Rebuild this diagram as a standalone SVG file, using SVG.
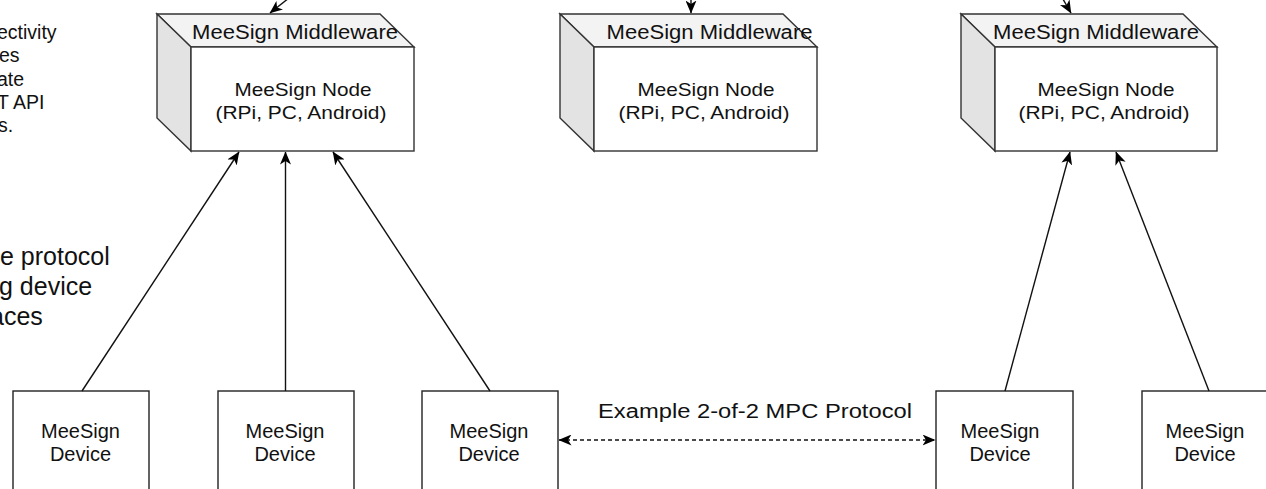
<svg xmlns="http://www.w3.org/2000/svg" width="1266" height="489" viewBox="0 0 1266 489">
<style>
text{font-family:"Liberation Sans",Arial,sans-serif;fill:#111;}
.top{fill:#f3f3f3;stroke:#333;stroke-width:1.4;}
.side{fill:#e3e3e3;stroke:#333;stroke-width:1.4;}
.front{fill:#fff;stroke:#333;stroke-width:1.4;}
.dev{fill:#fff;stroke:#222;stroke-width:1.4;}
.mw{font-size:20px;text-anchor:middle;}
.nt{font-size:19px;text-anchor:middle;}
.dt{font-size:20px;text-anchor:middle;}
.ln{stroke:#111;stroke-width:1.4;fill:none;}
.side-text{font-size:19.5px;}
.big-text{font-size:25px;}
</style>
<defs>
<marker id="ah" viewBox="0 0 13 11" refX="12.5" refY="5.5" markerWidth="13" markerHeight="11" markerUnits="userSpaceOnUse" orient="auto-start-reverse">
<path d="M0,0 L13,5.5 L0,11 L3.5,5.5 Z" fill="#000"/>
</marker>
</defs>

<g id="notes">
<text class="side-text" x="-3" y="39">ectivity</text>
<text class="side-text" x="-1" y="62">es</text>
<text class="side-text" x="-3" y="86">ate</text>
<text class="side-text" x="-3" y="109">T API</text>
<text class="side-text" x="-2" y="132">s.</text>
<text class="big-text" x="0" y="265">e protocol</text>
<text class="big-text" x="-1" y="295">g device</text>
<text class="big-text" x="-10" y="325">aces</text>
</g>

<g id="node1">
<path class="top" d="M157,14 L380,14 L414,47 L191,47 Z"/>
<path class="side" d="M157,14 L191,47 L191,151 L157,118 Z"/>
<rect class="front" x="191" y="47" width="223" height="104"/>
<text class="mw" x="295" y="39" textLength="206" lengthAdjust="spacingAndGlyphs">MeeSign Middleware</text>
<text class="nt" x="303" y="96" textLength="137" lengthAdjust="spacingAndGlyphs">MeeSign Node</text>
<text class="nt" x="301" y="119" textLength="171" lengthAdjust="spacingAndGlyphs">(RPi, PC, Android)</text>
</g>

<g id="node2">
<path class="top" d="M560,14 L783,14 L817,47 L594,47 Z"/>
<path class="side" d="M560,14 L594,47 L594,151 L560,118 Z"/>
<rect class="front" x="594" y="47" width="223" height="104"/>
<text class="mw" x="709.5" y="39" textLength="206" lengthAdjust="spacingAndGlyphs">MeeSign Middleware</text>
<text class="nt" x="706" y="96" textLength="137" lengthAdjust="spacingAndGlyphs">MeeSign Node</text>
<text class="nt" x="704" y="119" textLength="171" lengthAdjust="spacingAndGlyphs">(RPi, PC, Android)</text>
</g>

<g id="node3">
<path class="top" d="M961,14 L1183,14 L1217,47 L995,47 Z"/>
<path class="side" d="M961,14 L995,47 L995,151 L961,118 Z"/>
<rect class="front" x="995" y="47" width="222" height="104"/>
<text class="mw" x="1096" y="39" textLength="206" lengthAdjust="spacingAndGlyphs">MeeSign Middleware</text>
<text class="nt" x="1106" y="96" textLength="137" lengthAdjust="spacingAndGlyphs">MeeSign Node</text>
<text class="nt" x="1104" y="119" textLength="171" lengthAdjust="spacingAndGlyphs">(RPi, PC, Android)</text>
</g>

<g id="device1">
<rect class="dev" x="13" y="391" width="136" height="120"/>
<text class="dt" x="80.5" y="438">MeeSign</text>
<text class="dt" x="80.5" y="461">Device</text>
</g>
<g id="device2">
<rect class="dev" x="218" y="391" width="136" height="120"/>
<text class="dt" x="285" y="438">MeeSign</text>
<text class="dt" x="285" y="461">Device</text>
</g>
<g id="device3">
<rect class="dev" x="422" y="391" width="136" height="120"/>
<text class="dt" x="489" y="438">MeeSign</text>
<text class="dt" x="489" y="461">Device</text>
</g>
<g id="device4">
<rect class="dev" x="936" y="391" width="137" height="120"/>
<text class="dt" x="1000" y="438">MeeSign</text>
<text class="dt" x="1000" y="461">Device</text>
</g>
<g id="device5">
<rect class="dev" x="1142" y="391" width="137" height="120"/>
<text class="dt" x="1205" y="438">MeeSign</text>
<text class="dt" x="1205" y="461">Device</text>
</g>

<g id="connectors">
<line class="ln" x1="294" y1="-6" x2="270" y2="13" marker-end="url(#ah)"/>
<line class="ln" x1="691" y1="-6" x2="691" y2="13" marker-end="url(#ah)"/>
<line class="ln" x1="1060" y1="-6" x2="1071" y2="13" marker-end="url(#ah)"/>
<line class="ln" x1="82" y1="391" x2="239" y2="152" marker-end="url(#ah)"/>
<line class="ln" x1="285.5" y1="391" x2="285.5" y2="152" marker-end="url(#ah)"/>
<line class="ln" x1="490" y1="391" x2="333" y2="152" marker-end="url(#ah)"/>
<line class="ln" x1="1005" y1="391" x2="1070" y2="152" marker-end="url(#ah)"/>
<line class="ln" x1="1209" y1="391" x2="1116" y2="152" marker-end="url(#ah)"/>
<line class="ln" x1="559" y1="440" x2="935" y2="440" stroke-dasharray="4 3" marker-start="url(#ah)" marker-end="url(#ah)"/>
<text x="755" y="418" text-anchor="middle" font-size="20" textLength="314" lengthAdjust="spacingAndGlyphs">Example 2-of-2 MPC Protocol</text>
</g>
</svg>
